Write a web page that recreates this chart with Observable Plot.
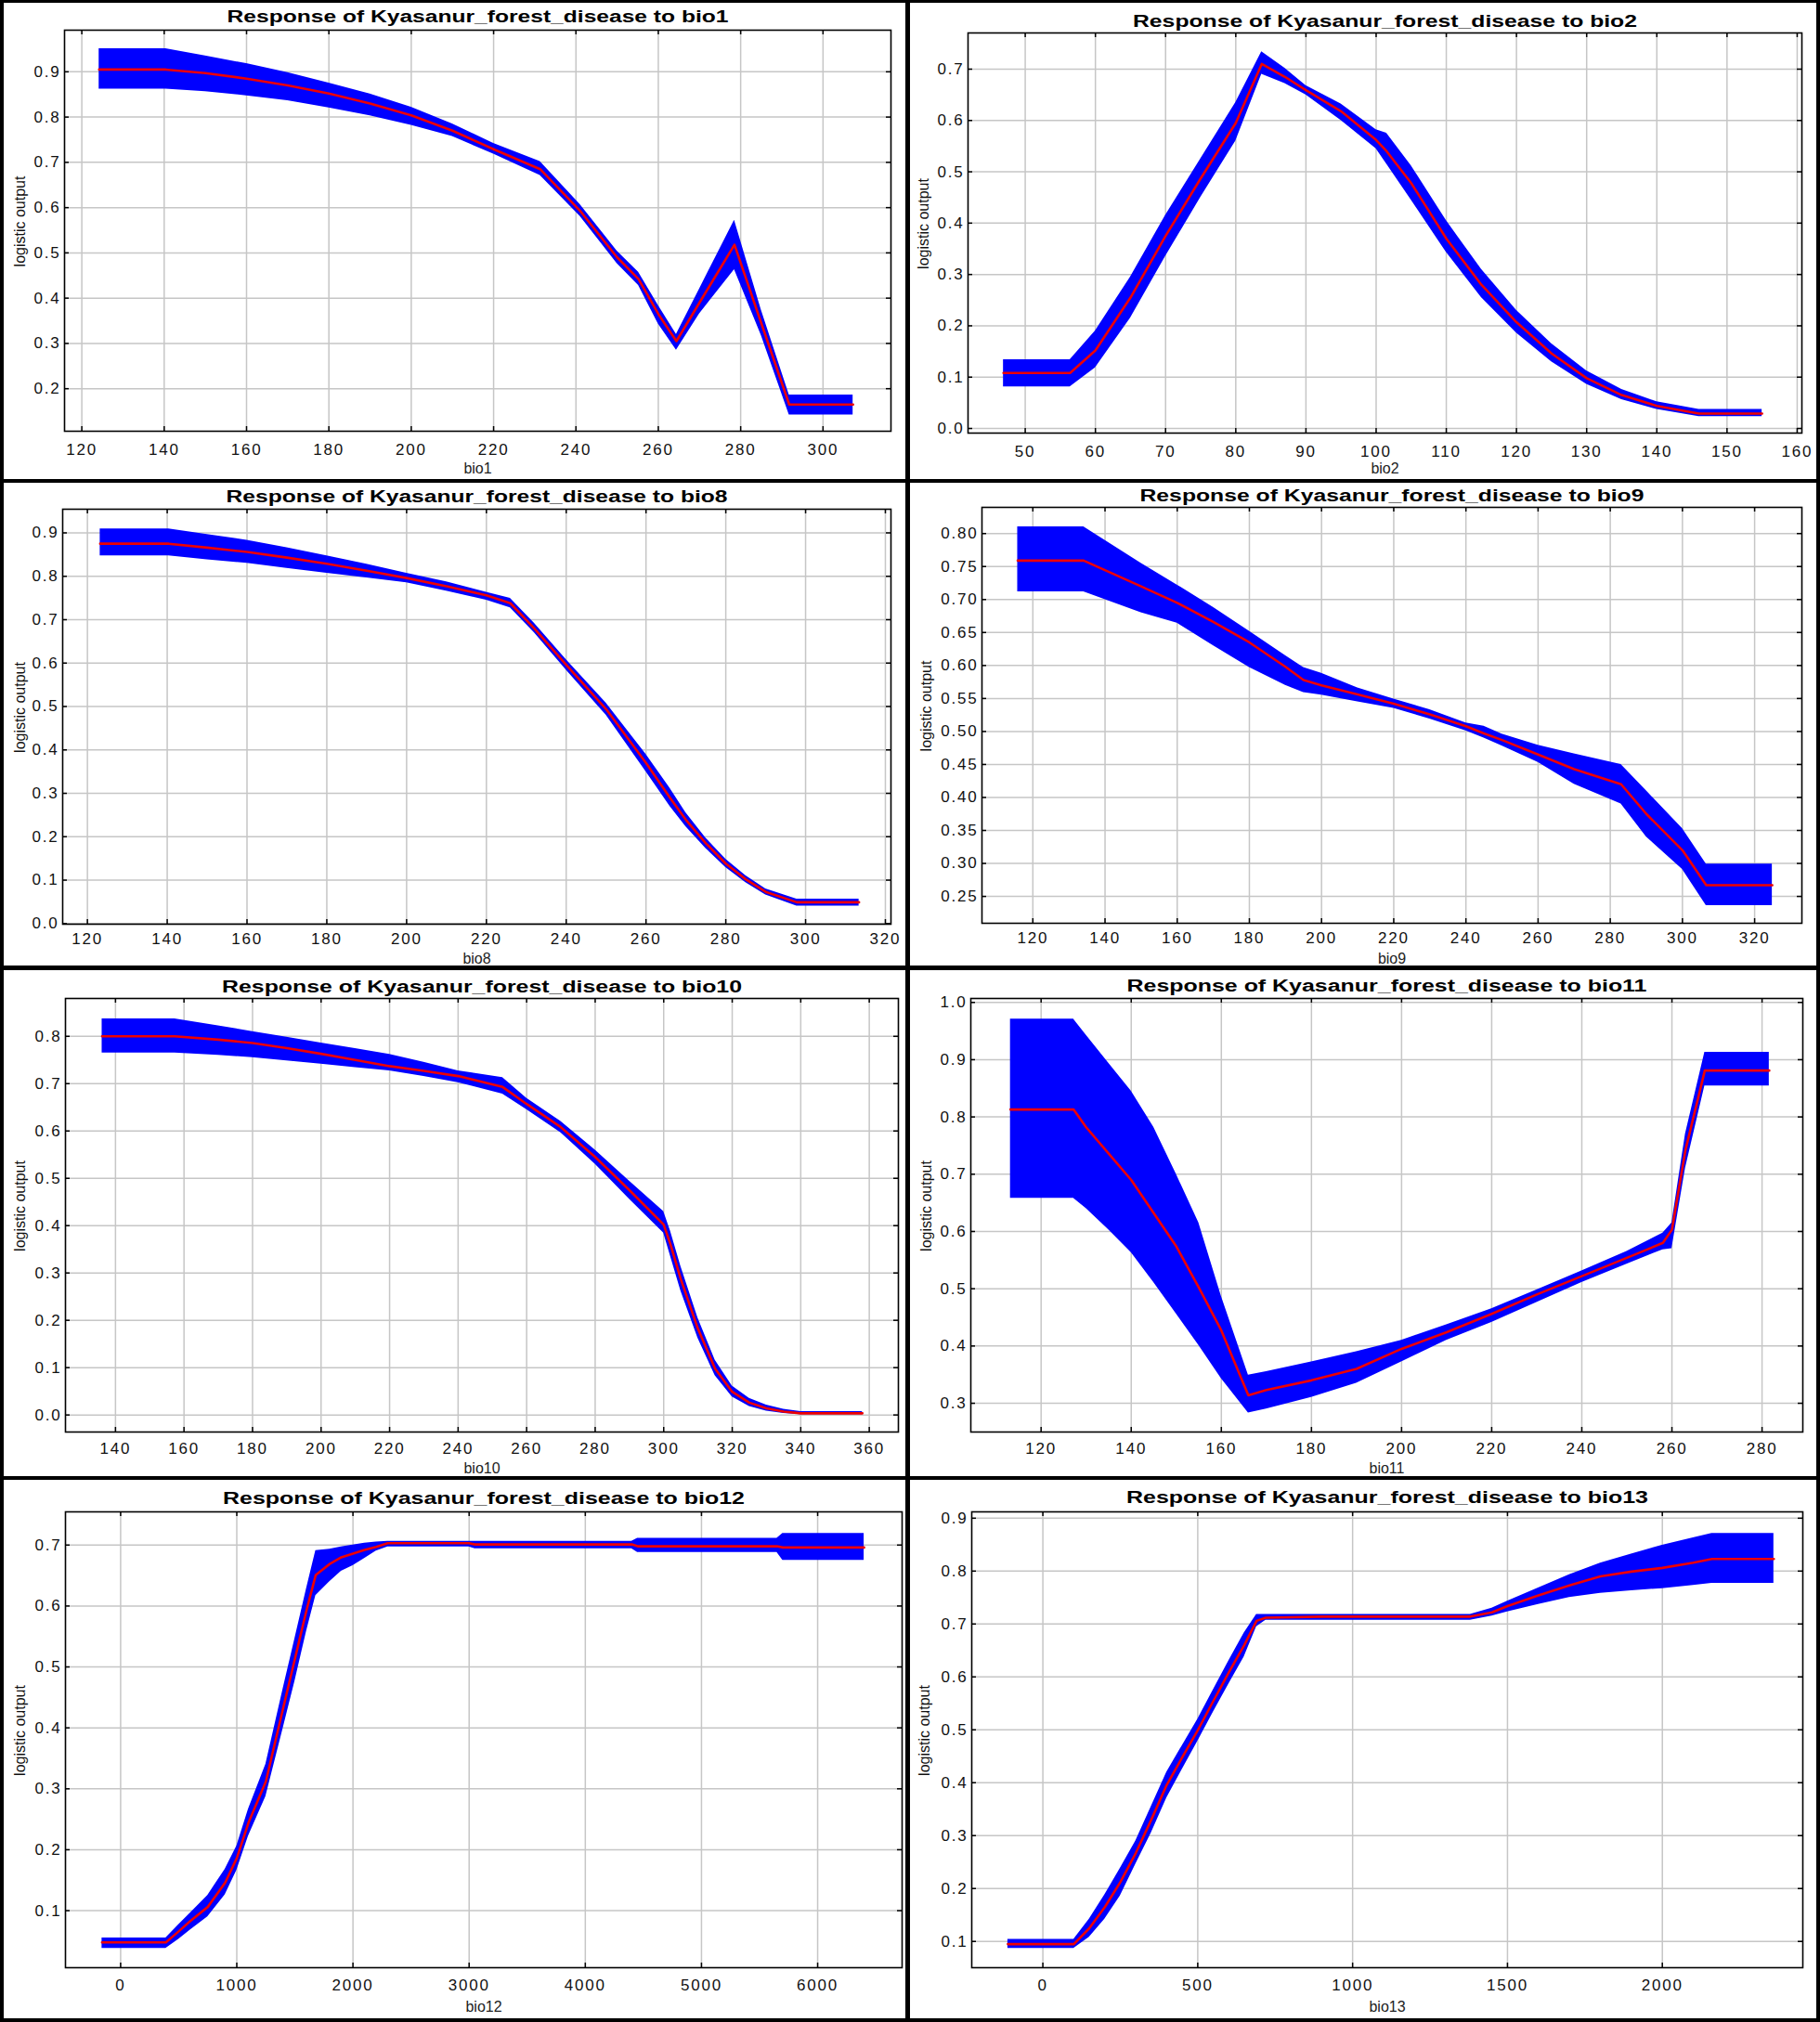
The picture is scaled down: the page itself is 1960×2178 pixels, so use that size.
<!DOCTYPE html>
<html>
<head>
<meta charset="utf-8">
<script src="https://cdn.jsdelivr.net/npm/d3@7"></script>
<script src="https://cdn.jsdelivr.net/npm/@observablehq/plot@0.6"></script>
<style>
  html, body { margin: 0; padding: 0; background: #fff; }
  #page { position: relative; width: 1960px; height: 2178px; background: #fff; overflow: hidden;
          font-family: "Liberation Sans", Arial, sans-serif; }
  .panel { position: absolute; }
  .bar { position: absolute; background: #000; }
</style>
</head>
<body>
<div id="page"></div>
<script>
// ---------------- DATA ----------------
const titlePrefix = "Response of Kyasanur_forest_disease to ";
const yLabel = "logistic output";

// bio1
const bio1_x    = [124.2, 140.4, 150, 160, 170, 180, 190, 200, 210, 220, 231.3, 241, 250, 255.2, 260, 264.4, 270, 278.5, 285, 291.8, 307.3];
const bio1_mean = [0.905, 0.905, 0.897, 0.885, 0.870, 0.852, 0.830, 0.804, 0.770, 0.729, 0.685, 0.593, 0.490, 0.442, 0.365, 0.305, 0.390, 0.518, 0.345, 0.165, 0.165];
const bio1_lo   = [0.862, 0.862, 0.856, 0.847, 0.836, 0.820, 0.803, 0.782, 0.757, 0.718, 0.671, 0.581, 0.476, 0.428, 0.343, 0.285, 0.365, 0.463, 0.318, 0.142, 0.142];
const bio1_hi   = [0.951, 0.951, 0.935, 0.918, 0.898, 0.875, 0.851, 0.822, 0.785, 0.742, 0.702, 0.607, 0.504, 0.457, 0.384, 0.320, 0.420, 0.572, 0.374, 0.186, 0.186];
const bio1_xticks = [120, 140, 160, 180, 200, 220, 240, 260, 280, 300];
const bio1_yticks = [0.2, 0.3, 0.4, 0.5, 0.6, 0.7, 0.8, 0.9];

// bio2
const bio2_x    = [46.9, 56.4, 60, 65, 70, 75, 80, 83.7, 87, 90, 95, 100, 101.5, 105, 110, 115, 120, 125, 130, 135, 140, 146, 155];
const bio2_mean = [0.108, 0.108, 0.152, 0.255, 0.375, 0.487, 0.595, 0.710, 0.685, 0.659, 0.618, 0.562, 0.540, 0.478, 0.370, 0.280, 0.207, 0.146, 0.098, 0.065, 0.044, 0.029, 0.029];
const bio2_lo   = [0.081, 0.081, 0.118, 0.215, 0.335, 0.450, 0.560, 0.690, 0.672, 0.650, 0.600, 0.545, 0.515, 0.445, 0.343, 0.255, 0.186, 0.130, 0.086, 0.056, 0.037, 0.023, 0.023];
const bio2_hi   = [0.134, 0.134, 0.190, 0.295, 0.415, 0.525, 0.635, 0.734, 0.702, 0.668, 0.632, 0.582, 0.575, 0.512, 0.405, 0.310, 0.230, 0.165, 0.112, 0.076, 0.052, 0.037, 0.037];
const bio2_xticks = [50, 60, 70, 80, 90, 100, 110, 120, 130, 140, 150, 160];
const bio2_yticks = [0.0, 0.1, 0.2, 0.3, 0.4, 0.5, 0.6, 0.7];

// bio8
const bio8_x    = [123.2, 140.4, 150, 160, 170, 180, 190, 200, 210, 220, 226, 232, 240, 250, 260, 266, 270, 275, 280, 285, 290, 297.8, 313.4];
const bio8_mean = [0.875, 0.875, 0.866, 0.856, 0.843, 0.829, 0.813, 0.796, 0.777, 0.756, 0.738, 0.680, 0.596, 0.494, 0.370, 0.290, 0.239, 0.185, 0.138, 0.102, 0.073, 0.049, 0.049];
const bio8_lo   = [0.847, 0.847, 0.838, 0.830, 0.818, 0.807, 0.796, 0.785, 0.766, 0.745, 0.727, 0.670, 0.584, 0.480, 0.350, 0.270, 0.223, 0.173, 0.129, 0.094, 0.066, 0.040, 0.040];
const bio8_hi   = [0.909, 0.909, 0.896, 0.883, 0.866, 0.847, 0.828, 0.807, 0.787, 0.763, 0.749, 0.692, 0.608, 0.508, 0.390, 0.312, 0.255, 0.197, 0.148, 0.110, 0.080, 0.056, 0.056];
const bio8_xticks = [120, 140, 160, 180, 200, 220, 240, 260, 280, 300, 320];
const bio8_yticks = [0.0, 0.1, 0.2, 0.3, 0.4, 0.5, 0.6, 0.7, 0.8, 0.9];

// bio9
const bio9_x    = [115.8, 134.1, 150, 160, 170, 180, 190, 195, 200, 210, 220, 230, 240, 245, 250, 260, 270, 283, 290, 300, 306.6, 324.9];
const bio9_mean = [0.759, 0.759, 0.720, 0.695, 0.666, 0.635, 0.598, 0.578, 0.570, 0.556, 0.542, 0.526, 0.508, 0.497, 0.487, 0.465, 0.443, 0.420, 0.375, 0.320, 0.267, 0.267];
const bio9_lo   = [0.7115, 0.7115, 0.680, 0.664, 0.630, 0.597, 0.570, 0.559, 0.555, 0.545, 0.535, 0.519, 0.501, 0.490, 0.478, 0.453, 0.420, 0.390, 0.340, 0.291, 0.236, 0.236];
const bio9_hi   = [0.810, 0.810, 0.755, 0.722, 0.688, 0.652, 0.615, 0.597, 0.588, 0.566, 0.549, 0.533, 0.513, 0.508, 0.496, 0.479, 0.466, 0.450, 0.410, 0.353, 0.299, 0.299];
const bio9_xticks = [120, 140, 160, 180, 200, 220, 240, 260, 280, 300, 320];
const bio9_yticks = [0.25, 0.30, 0.35, 0.40, 0.45, 0.50, 0.55, 0.60, 0.65, 0.70, 0.75, 0.80];

// bio10
const bio10_x    = [136.1, 157.3, 170, 180, 190, 200, 210, 220, 230, 240, 253, 260, 270, 280, 290, 300, 302, 305, 310, 315, 320, 325, 330, 335, 340, 358];
const bio10_mean = [0.800, 0.800, 0.793, 0.786, 0.775, 0.763, 0.750, 0.737, 0.727, 0.716, 0.693, 0.657, 0.608, 0.545, 0.475, 0.402, 0.360, 0.287, 0.182, 0.098, 0.049, 0.026, 0.014, 0.007, 0.0035, 0.0035];
const bio10_lo   = [0.765, 0.765, 0.760, 0.755, 0.748, 0.741, 0.734, 0.727, 0.715, 0.702, 0.678, 0.645, 0.596, 0.530, 0.456, 0.384, 0.335, 0.262, 0.162, 0.083, 0.038, 0.018, 0.008, 0.003, 0.001, 0.001];
const bio10_hi   = [0.837, 0.837, 0.822, 0.810, 0.798, 0.786, 0.774, 0.762, 0.745, 0.727, 0.713, 0.669, 0.620, 0.560, 0.494, 0.430, 0.388, 0.314, 0.205, 0.116, 0.061, 0.035, 0.021, 0.012, 0.007, 0.007];
const bio10_xticks = [140, 160, 180, 200, 220, 240, 260, 280, 300, 320, 340, 360];
const bio10_yticks = [0.0, 0.1, 0.2, 0.3, 0.4, 0.5, 0.6, 0.7, 0.8];

// bio11
const bio11_x    = [113.2, 127.2, 130, 135, 140, 145, 150, 155, 160, 166, 170, 180, 190, 200, 210, 220, 230, 240, 250, 258, 260, 263, 267.3, 281.6];
const bio11_mean = [0.813, 0.813, 0.782, 0.736, 0.690, 0.632, 0.574, 0.502, 0.427, 0.314, 0.323, 0.340, 0.360, 0.395, 0.424, 0.456, 0.490, 0.522, 0.554, 0.580, 0.603, 0.742, 0.881, 0.881];
const bio11_lo   = [0.658, 0.658, 0.640, 0.603, 0.563, 0.511, 0.456, 0.401, 0.343, 0.283, 0.290, 0.310, 0.335, 0.372, 0.410, 0.441, 0.476, 0.511, 0.543, 0.568, 0.570, 0.710, 0.854, 0.854];
const bio11_hi   = [0.971, 0.971, 0.943, 0.894, 0.845, 0.782, 0.700, 0.615, 0.487, 0.349, 0.355, 0.372, 0.390, 0.410, 0.437, 0.465, 0.498, 0.531, 0.565, 0.597, 0.615, 0.770, 0.913, 0.913];
const bio11_xticks = [120, 140, 160, 180, 200, 220, 240, 260, 280];
const bio11_yticks = [0.3, 0.4, 0.5, 0.6, 0.7, 0.8, 0.9, 1.0];

// bio12
const bio12_x    = [-160, 390, 500, 600, 750, 900, 1000, 1100, 1250, 1400, 1500, 1600, 1680, 1800, 1900, 2000, 2100, 2200, 2300, 3000, 3050, 4400, 4450, 5650, 5700, 6400];
const bio12_mean = [0.048, 0.048, 0.066, 0.083, 0.106, 0.146, 0.186, 0.244, 0.312, 0.433, 0.513, 0.593, 0.651, 0.669, 0.680, 0.686, 0.692, 0.697, 0.703, 0.703, 0.701, 0.701, 0.698, 0.698, 0.696, 0.696];
const bio12_lo   = [0.038, 0.038, 0.053, 0.068, 0.090, 0.126, 0.166, 0.222, 0.287, 0.400, 0.476, 0.558, 0.617, 0.640, 0.657, 0.666, 0.678, 0.690, 0.697, 0.697, 0.694, 0.694, 0.688, 0.688, 0.675, 0.675];
const bio12_hi   = [0.055, 0.055, 0.077, 0.096, 0.125, 0.168, 0.206, 0.266, 0.340, 0.465, 0.546, 0.628, 0.691, 0.693, 0.697, 0.700, 0.703, 0.705, 0.706, 0.706, 0.706, 0.706, 0.711, 0.711, 0.719, 0.719];
const bio12_xticks = [0, 1000, 2000, 3000, 4000, 5000, 6000];
const bio12_yticks = [0.1, 0.2, 0.3, 0.4, 0.5, 0.6, 0.7];

// bio13
const bio13_x    = [-113, 100, 150, 200, 250, 300, 350, 400, 450, 500, 550, 600, 650, 690, 720, 900, 1380, 1450, 1500, 1600, 1700, 1800, 1900, 2000, 2100, 2160, 2360];
const bio13_mean = [0.095, 0.095, 0.125, 0.165, 0.212, 0.267, 0.330, 0.396, 0.448, 0.499, 0.554, 0.608, 0.660, 0.706, 0.712, 0.714, 0.714, 0.722, 0.734, 0.754, 0.773, 0.790, 0.799, 0.806, 0.816, 0.823, 0.823];
const bio13_lo   = [0.087, 0.087, 0.108, 0.142, 0.186, 0.246, 0.305, 0.371, 0.425, 0.478, 0.533, 0.586, 0.638, 0.695, 0.707, 0.707, 0.707, 0.715, 0.723, 0.737, 0.750, 0.758, 0.763, 0.767, 0.773, 0.777, 0.777];
const bio13_hi   = [0.104, 0.104, 0.142, 0.188, 0.238, 0.290, 0.355, 0.420, 0.470, 0.520, 0.575, 0.630, 0.683, 0.718, 0.718, 0.718, 0.718, 0.730, 0.743, 0.768, 0.793, 0.815, 0.832, 0.849, 0.863, 0.871, 0.871];
const bio13_xticks = [0, 500, 1000, 1500, 2000];
const bio13_yticks = [0.1, 0.2, 0.3, 0.4, 0.5, 0.6, 0.7, 0.8, 0.9];

const panels = [
  {key: "bio1",  x: bio1_x,  mean: bio1_mean,  lo: bio1_lo,  hi: bio1_hi,  xticks: bio1_xticks,  yticks: bio1_yticks},
  {key: "bio2",  x: bio2_x,  mean: bio2_mean,  lo: bio2_lo,  hi: bio2_hi,  xticks: bio2_xticks,  yticks: bio2_yticks},
  {key: "bio8",  x: bio8_x,  mean: bio8_mean,  lo: bio8_lo,  hi: bio8_hi,  xticks: bio8_xticks,  yticks: bio8_yticks},
  {key: "bio9",  x: bio9_x,  mean: bio9_mean,  lo: bio9_lo,  hi: bio9_hi,  xticks: bio9_xticks,  yticks: bio9_yticks},
  {key: "bio10", x: bio10_x, mean: bio10_mean, lo: bio10_lo, hi: bio10_hi, xticks: bio10_xticks, yticks: bio10_yticks},
  {key: "bio11", x: bio11_x, mean: bio11_mean, lo: bio11_lo, hi: bio11_hi, xticks: bio11_xticks, yticks: bio11_yticks},
  {key: "bio12", x: bio12_x, mean: bio12_mean, lo: bio12_lo, hi: bio12_hi, xticks: bio12_xticks, yticks: bio12_yticks},
  {key: "bio13", x: bio13_x, mean: bio13_mean, lo: bio13_lo, hi: bio13_hi, xticks: bio13_xticks, yticks: bio13_yticks}
];

// ---------------- LAYOUT (page pixels) ----------------
const layout = {
  bio1:  {box: [4, 3, 971, 513],     frame: [69, 32, 959, 464],      titleY: 18,    tickPad: 13, xlabDy: 40, xdom: [115.8, 316.5],  ydom: [0.106, 0.992],   yfmt: ".1f", tlen: 540, ylabX: 21},
  bio2:  {box: [980, 3, 976, 513],   frame: [1042, 35, 1940, 466],   titleY: 22.5,  tickPad: 13, xlabDy: 38, xdom: [41.85, 160.67], ydom: [-0.009, 0.7705], yfmt: ".1f", tlen: 543, ylabX: 994},
  bio8:  {box: [4, 520, 971, 520],   frame: [67, 548, 959, 995],     titleY: 535,   tickPad: 9,  xlabDy: 37, xdom: [113.8, 321.4],  ydom: [-0.0015, 0.9545], yfmt: ".1f", tlen: 540, ylabX: 21},
  bio9:  {box: [980, 520, 976, 520], frame: [1057, 546, 1940, 994],  titleY: 533.5, tickPad: 9,  xlabDy: 38, xdom: [105.9, 333.1],  ydom: [0.2093, 0.8397], yfmt: ".2f", tlen: 543, ylabX: 997},
  bio10: {box: [4, 1045, 971, 545],  frame: [70, 1075, 967, 1542],   titleY: 1063,  tickPad: 11, xlabDy: 39, xdom: [125.4, 368.5],  ydom: [-0.036, 0.880],  yfmt: ".1f", tlen: 560, ylabX: 21},
  bio11: {box: [980, 1045, 976, 545],frame: [1045, 1075, 1941, 1542],titleY: 1062,  tickPad: 11, xlabDy: 39, xdom: [104.4, 289.05], ydom: [0.2498, 1.0069], yfmt: ".1f", tlen: 560, ylabX: 997},
  bio12: {box: [4, 1594, 971, 580],  frame: [70, 1628, 971, 2119],   titleY: 1614,  tickPad: 12, xlabDy: 42, xdom: [-474.8, 6727],  ydom: [0.0064, 0.7545], yfmt: ".1f", tlen: 562, ylabX: 21},
  bio13: {box: [980, 1594, 976, 580],frame: [1046, 1628, 1941, 2119],titleY: 1613,  tickPad: 12, xlabDy: 42, xdom: [-229.6, 2453.5],ydom: [0.0504, 0.912],  yfmt: ".1f", tlen: 562, ylabX: 995}
};

const bars = [
  [0, 0, 1960, 3], [0, 2174, 1960, 4], [0, 0, 4, 2178], [1956, 0, 4, 2178],
  [975, 0, 5, 2178], [0, 516, 1960, 4], [0, 1040, 1960, 5], [0, 1590, 1960, 4]
];

// ---------------- RENDER ----------------
const page = document.getElementById("page");
const FONT = "'Liberation Sans', Arial, Helvetica, sans-serif";

for (const p of panels) {
  const L = layout[p.key];
  const [bx, by, bw, bh] = L.box;
  const [fl, ft, fr, fb] = L.frame;
  const mL = fl - bx, mT = ft - by, mR = bx + bw - fr, mB = by + bh - fb;
  const W = fr - fl, H = fb - ft;
  const rows = p.x.map((x, i) => ({x, mean: p.mean[i], lo: p.lo[i], hi: p.hi[i]}));
  const yf = d3.format(L.yfmt);

  const chart = Plot.plot({
    width: bw, height: bh,
    marginLeft: mL, marginRight: mR, marginTop: mT, marginBottom: mB,
    x: {type: "linear", domain: L.xdom},
    y: {type: "linear", domain: L.ydom},
    style: {fontFamily: FONT, background: "transparent", overflow: "visible", color: "#111"},
    marks: [
      Plot.gridX(p.xticks, {stroke: "#c6c6c6", strokeOpacity: 1, strokeWidth: 1.5}),
      Plot.gridY(p.yticks, {stroke: "#c6c6c6", strokeOpacity: 1, strokeWidth: 1.5}),
      Plot.areaY(rows, {x: "x", y1: "lo", y2: "hi", fill: "#0000ff", fillOpacity: 1}),
      Plot.lineY(rows, {x: "x", y: "mean", stroke: "#ee0000", strokeWidth: 2.6}),
      Plot.frame({stroke: "#000", strokeWidth: 1.6}),
      Plot.tickX(p.xticks, {x: d => d, insetTop: H - 5, stroke: "#000", strokeWidth: 1.5}),
      Plot.tickX(p.xticks, {x: d => d, insetBottom: H - 5, stroke: "#000", strokeWidth: 1.5}),
      Plot.tickY(p.yticks, {y: d => d, insetRight: W - 5, stroke: "#000", strokeWidth: 1.5}),
      Plot.tickY(p.yticks, {y: d => d, insetLeft: W - 5, stroke: "#000", strokeWidth: 1.5}),
      Plot.axisX({ticks: p.xticks, tickSize: 0, tickPadding: L.tickPad, fontSize: 17, label: null, tickFormat: d => String(d)}),
      Plot.axisY({ticks: p.yticks, tickSize: 0, tickPadding: 4, fontSize: 17, label: null, tickFormat: d => yf(d)}),
      Plot.text([titlePrefix + p.key], {text: d => d, frameAnchor: "top", dy: L.titleY - ft, lineAnchor: "middle",
        fontSize: 18, fontWeight: "bold", fill: "#000", className: "ptitle"}),
      Plot.text([p.key], {text: d => d, frameAnchor: "bottom", dy: L.xlabDy, lineAnchor: "middle", fontSize: 16, fill: "#222"}),
      Plot.text([yLabel], {text: d => d, frameAnchor: "left", dx: L.ylabX - fl, dy: -10, rotate: -90,
        lineAnchor: "middle", textAnchor: "middle", fontSize: 16, fill: "#111"})
    ]
  });

  // stretch title to the reference's width, spread tick labels a little
  chart.querySelectorAll(".ptitle text").forEach(t => {
    t.setAttribute("textLength", L.tlen);
    t.setAttribute("lengthAdjust", "spacingAndGlyphs");
  });
  chart.querySelectorAll('g[aria-label$="tick label"]').forEach(g => g.setAttribute("letter-spacing", "1.8"));

  const holder = document.createElement("div");
  holder.className = "panel";
  holder.style.left = bx + "px";
  holder.style.top = by + "px";
  holder.style.width = bw + "px";
  holder.style.height = bh + "px";
  holder.appendChild(chart);
  page.appendChild(holder);
}

for (const [x, y, w, h] of bars) {
  const d = document.createElement("div");
  d.className = "bar";
  d.style.left = x + "px"; d.style.top = y + "px";
  d.style.width = w + "px"; d.style.height = h + "px";
  page.appendChild(d);
}
</script>
</body>
</html>
